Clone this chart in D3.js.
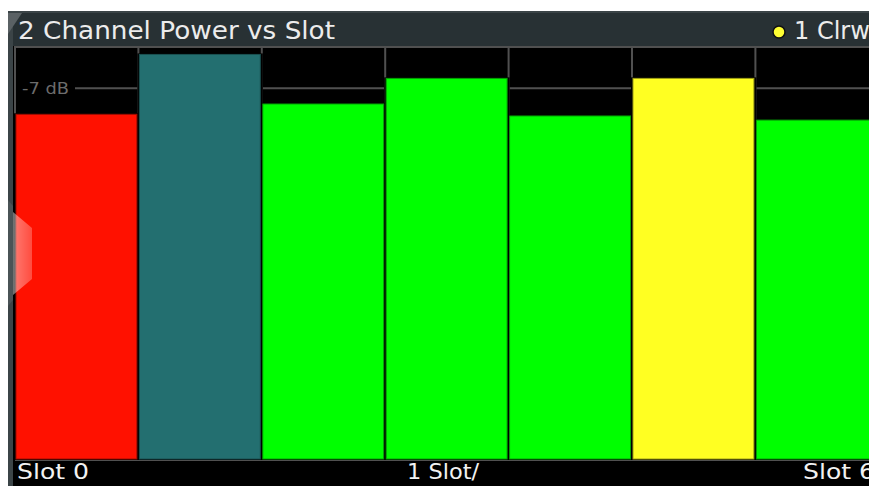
<!DOCTYPE html>
<html>
<head>
<meta charset="utf-8">
<script src="https://cdn.jsdelivr.net/npm/d3@7"></script>
<style>
  html, body { margin: 0; padding: 0; background: #ffffff; overflow: hidden; }
  svg { display: block; }
</style>
</head>
<body>
<div id="chart"></div>
<script>
// values
const slotLabels = ["0", "1", "2", "3", "4", "5", "6"];
const slotPowerDb = [-7.63, -6.18, -7.38, -6.76, -7.67, -6.76, -7.77];
const slotStatus = ["fail", "inactive", "pass", "pass", "pass", "warn", "pass"];
const yTicksDb = [-6, -7, -8, -9, -10, -11, -12, -13, -14, -15, -16];
const yLabelTicks = [-7];

const STATUS_FILL = {
  fail: "#ff1100",
  inactive: "#236f70",
  pass: "#00ff00",
  warn: "#ffff22",
};
const STATUS_EDGE = {
  fail: "#a00c00",
  inactive: "#1a5050",
  pass: "#05a005",
  warn: "#a0a015",
};

const width = 869;
const height = 486;
const plot = { left: 15, top: 47, bottom: 460, slotWidth: 123.4 };

const svg = d3.select("#chart").append("svg")
  .attr("width", width)
  .attr("height", height);

const defs = svg.append("defs");
const refGrad = defs.append("linearGradient").attr("id", "ref-marker-grad")
  .attr("x1", "0%").attr("x2", "100%");
refGrad.append("stop").attr("offset", "0%").attr("stop-color", "#ffffff").attr("stop-opacity", 0.45);
refGrad.append("stop").attr("offset", "100%").attr("stop-color", "#ffffff").attr("stop-opacity", 0.25);

// window frame
svg.append("rect").attr("x", 8).attr("y", 11).attr("width", width - 8).attr("height", height - 11)
  .attr("fill", "#3b4447");
svg.append("rect").attr("x", 13).attr("y", 13).attr("width", width - 13).attr("height", 33)
  .attr("fill", "#283134");
svg.append("rect").attr("x", 13).attr("y", 46).attr("width", width - 13).attr("height", height - 46)
  .attr("fill", "#000000");
// folded corner tab
svg.append("path").attr("d", "M8,13 L22,13 L8,34 Z").attr("fill", "#5a6164");

const x = d3.scaleBand()
  .domain(slotLabels)
  .range([plot.left, plot.left + plot.slotWidth * slotLabels.length])
  .padding(0);
const y = d3.scaleLinear().domain([-16, -6]).range([plot.bottom, plot.top]);

// grid
const grid = svg.append("g").attr("stroke", "#505050").attr("stroke-width", 2);
grid.selectAll("line.v")
  .data(slotLabels)
  .join("line")
  .attr("class", "v")
  .attr("x1", (d) => x(d)).attr("x2", (d) => x(d))
  .attr("y1", plot.top - 1).attr("y2", plot.bottom);
grid.selectAll("line.h")
  .data(yTicksDb)
  .join("line")
  .attr("class", "h")
  .attr("x1", (d) => (yLabelTicks.includes(d) ? 75 : plot.left))
  .attr("x2", width)
  .attr("y1", (d) => y(d)).attr("y2", (d) => y(d));

svg.selectAll("text.ylab")
  .data(yLabelTicks)
  .join("text")
  .attr("class", "ylab")
  .attr("x", 22)
  .attr("y", (d) => y(d) + 6)
  .attr("fill", "#6c6c6c")
  .attr("font-family", "DejaVu Sans")
  .attr("font-size", 16)
  .attr("textLength", 47)
  .attr("lengthAdjust", "spacingAndGlyphs")
  .text((d) => `${d} dB`);

// bars: a black backing hides the grid in the gaps, then the coloured slot
const barData = slotLabels.map((slot, i) => ({ slot, db: slotPowerDb[i], status: slotStatus[i] }));
const bars = svg.append("g");
bars.selectAll("rect.back")
  .data(barData)
  .join("rect")
  .attr("class", "back")
  .attr("x", (d) => x(d.slot) - 1)
  .attr("y", (d) => y(d.db) - 1)
  .attr("width", x.bandwidth() + 2)
  .attr("height", (d) => plot.bottom - y(d.db) + 1)
  .attr("fill", "#000000");
bars.selectAll("rect.bar")
  .data(barData)
  .join("rect")
  .attr("class", "bar")
  .attr("x", (d) => x(d.slot) + 1)
  .attr("y", (d) => y(d.db))
  .attr("width", x.bandwidth() - 2.5)
  .attr("height", (d) => plot.bottom - y(d.db) - 1)
  .attr("fill", (d) => STATUS_FILL[d.status])
  .attr("stroke", (d) => STATUS_EDGE[d.status])
  .attr("stroke-width", 1);

// reference level marker on the left edge
svg.append("path").attr("d", "M8,200 L13,206 L13,300 L8,306 Z").attr("fill", "#4a5356");
svg.append("path").attr("d", "M13,212 L32,228 L32,279 L13,295 Z").attr("fill", "url(#ref-marker-grad)");

// header
svg.append("text")
  .attr("x", 18).attr("y", 39)
  .attr("fill", "#ececec")
  .attr("font-family", "DejaVu Sans")
  .attr("font-size", 24)
  .attr("textLength", 317)
  .attr("lengthAdjust", "spacingAndGlyphs")
  .text("2 Channel Power vs Slot");
svg.append("circle").attr("cx", 779).attr("cy", 32).attr("r", 6)
  .attr("fill", "#ffff33").attr("stroke", "#111111").attr("stroke-width", 1.5);
svg.append("text")
  .attr("x", 794).attr("y", 39)
  .attr("fill", "#ececec")
  .attr("font-family", "DejaVu Sans")
  .attr("font-size", 24)
  .text("1 Clrw");

// bottom axis band
const bottomLabels = [
  { text: `Slot ${slotLabels[0]}`, x: 17 },
  { text: "1 Slot/", x: 407 },
  { text: `Slot ${slotLabels[slotLabels.length - 1]}`, x: 803 },
];
svg.append("g")
  .selectAll("text")
  .data(bottomLabels)
  .join("text")
  .attr("x", (d) => d.x)
  .attr("y", 479)
  .attr("fill", "#f2f2f2")
  .attr("font-family", "DejaVu Sans")
  .attr("font-size", 21)
  .attr("textLength", 72)
  .attr("lengthAdjust", "spacingAndGlyphs")
  .text((d) => d.text);
</script>
</body>
</html>
